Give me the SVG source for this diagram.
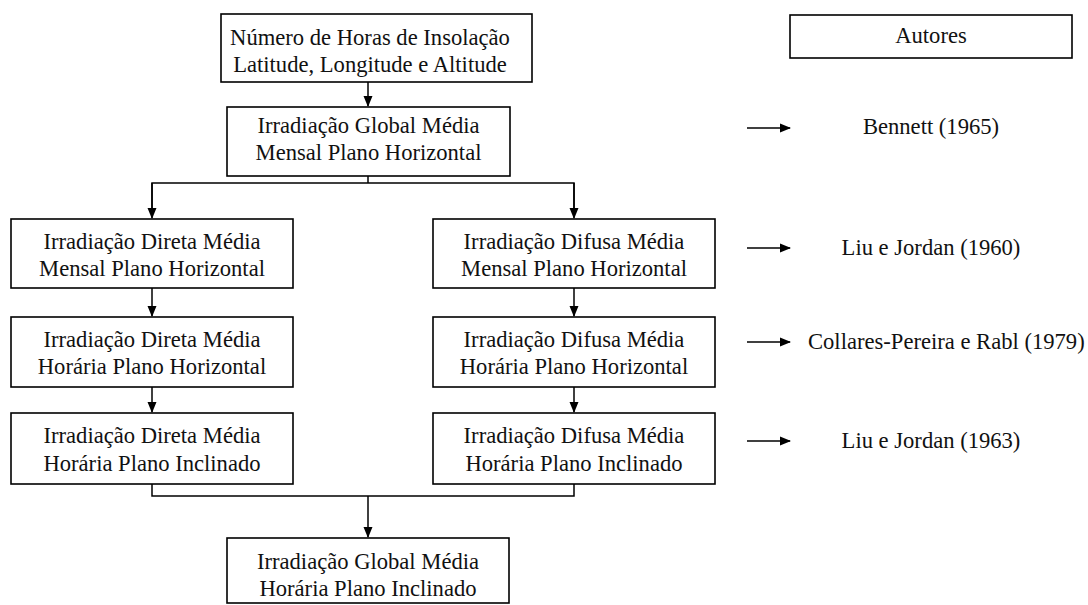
<svg xmlns="http://www.w3.org/2000/svg" width="1088" height="605" viewBox="0 0 1088 605" font-family="'Liberation Serif', 'Times New Roman', Tinos, 'DejaVu Serif', serif">
<style>
rect.b{fill:#fff;stroke:#000;stroke-width:1.6}
text{font-family:'Liberation Serif', 'Times New Roman', Tinos, 'DejaVu Serif', serif;font-size:22.6px;fill:#111}
.c{text-anchor:middle}
.ln{fill:none;stroke:#000;stroke-width:1.5}
</style>
<defs>
<marker id="ah" markerWidth="11" markerHeight="11" refX="10" refY="5.5" orient="auto" markerUnits="userSpaceOnUse">
<path d="M0,1 L11,5.5 L0,10 Z" fill="#000"/>
</marker>
</defs>
<g id="connectors">
<line class="ln" x1="368" y1="82" x2="368" y2="106" marker-end="url(#ah)"/>
<polyline class="ln" points="368,176 368,183"/>
<polyline class="ln" points="152,210 152,183 574,183 574,210"/>
<line class="ln" x1="152" y1="183" x2="152" y2="218" marker-end="url(#ah)"/>
<line class="ln" x1="574" y1="183" x2="574" y2="218" marker-end="url(#ah)"/>
<line class="ln" x1="152" y1="288" x2="152" y2="316" marker-end="url(#ah)"/>
<line class="ln" x1="574" y1="288" x2="574" y2="316" marker-end="url(#ah)"/>
<line class="ln" x1="152" y1="387" x2="152" y2="412" marker-end="url(#ah)"/>
<line class="ln" x1="574" y1="387" x2="574" y2="412" marker-end="url(#ah)"/>
<polyline class="ln" points="152,484 152,496 574,496 574,484"/>
<line class="ln" x1="368" y1="496" x2="368" y2="537" marker-end="url(#ah)"/>
<line class="ln" x1="747" y1="128" x2="790" y2="128" marker-end="url(#ah)"/>
<line class="ln" x1="747" y1="248" x2="790" y2="248" marker-end="url(#ah)"/>
<line class="ln" x1="747" y1="342" x2="790" y2="342" marker-end="url(#ah)"/>
<line class="ln" x1="747" y1="441" x2="790" y2="441" marker-end="url(#ah)"/>
</g>
<g id="n_insolacao">
<rect class="b" x="221" y="14" width="311" height="68"/>
<text class="c" x="370" y="45">Número de Horas de Insolação</text>
<text class="c" x="370" y="72">Latitude, Longitude e Altitude</text>
</g>
<g id="n_global_mensal">
<rect class="b" x="227" y="107" width="283" height="69"/>
<text class="c" x="368.5" y="133">Irradiação Global Média</text>
<text class="c" x="368.5" y="160">Mensal Plano Horizontal</text>
</g>
<g id="n_direta_mensal">
<rect class="b" x="11" y="219" width="282" height="69"/>
<text class="c" x="152" y="249">Irradiação Direta Média</text>
<text class="c" x="152" y="276">Mensal Plano Horizontal</text>
</g>
<g id="n_difusa_mensal">
<rect class="b" x="433" y="219" width="282" height="69"/>
<text class="c" x="574" y="249">Irradiação Difusa Média</text>
<text class="c" x="574" y="276">Mensal Plano Horizontal</text>
</g>
<g id="n_direta_horaria_h">
<rect class="b" x="11" y="317" width="282" height="70"/>
<text class="c" x="152" y="347">Irradiação Direta Média</text>
<text class="c" x="152" y="374">Horária Plano Horizontal</text>
</g>
<g id="n_difusa_horaria_h">
<rect class="b" x="433" y="317" width="282" height="70"/>
<text class="c" x="574" y="347">Irradiação Difusa Média</text>
<text class="c" x="574" y="374">Horária Plano Horizontal</text>
</g>
<g id="n_direta_horaria_i">
<rect class="b" x="11" y="413" width="282" height="71"/>
<text class="c" x="152" y="443">Irradiação Direta Média</text>
<text class="c" x="152" y="471">Horária Plano Inclinado</text>
</g>
<g id="n_difusa_horaria_i">
<rect class="b" x="433" y="413" width="282" height="71"/>
<text class="c" x="574" y="443">Irradiação Difusa Média</text>
<text class="c" x="574" y="471">Horária Plano Inclinado</text>
</g>
<g id="n_global_horaria_i">
<rect class="b" x="227" y="538" width="282" height="65"/>
<text class="c" x="368" y="569">Irradiação Global Média</text>
<text class="c" x="368" y="596">Horária Plano Inclinado</text>
</g>
<g id="n_autores">
<rect class="b" x="790" y="15" width="282" height="43"/>
<text class="c" x="931" y="43">Autores</text>
</g>
<g id="a_bennett"><text class="c" x="931" y="134">Bennett (1965)</text></g>
<g id="a_liu1960"><text class="c" x="931" y="255">Liu e Jordan (1960)</text></g>
<g id="a_collares"><text x="808" y="349">Collares-Pereira  e Rabl (1979)</text></g>
<g id="a_liu1963"><text class="c" x="931" y="448">Liu e Jordan (1963)</text></g>
</svg>
